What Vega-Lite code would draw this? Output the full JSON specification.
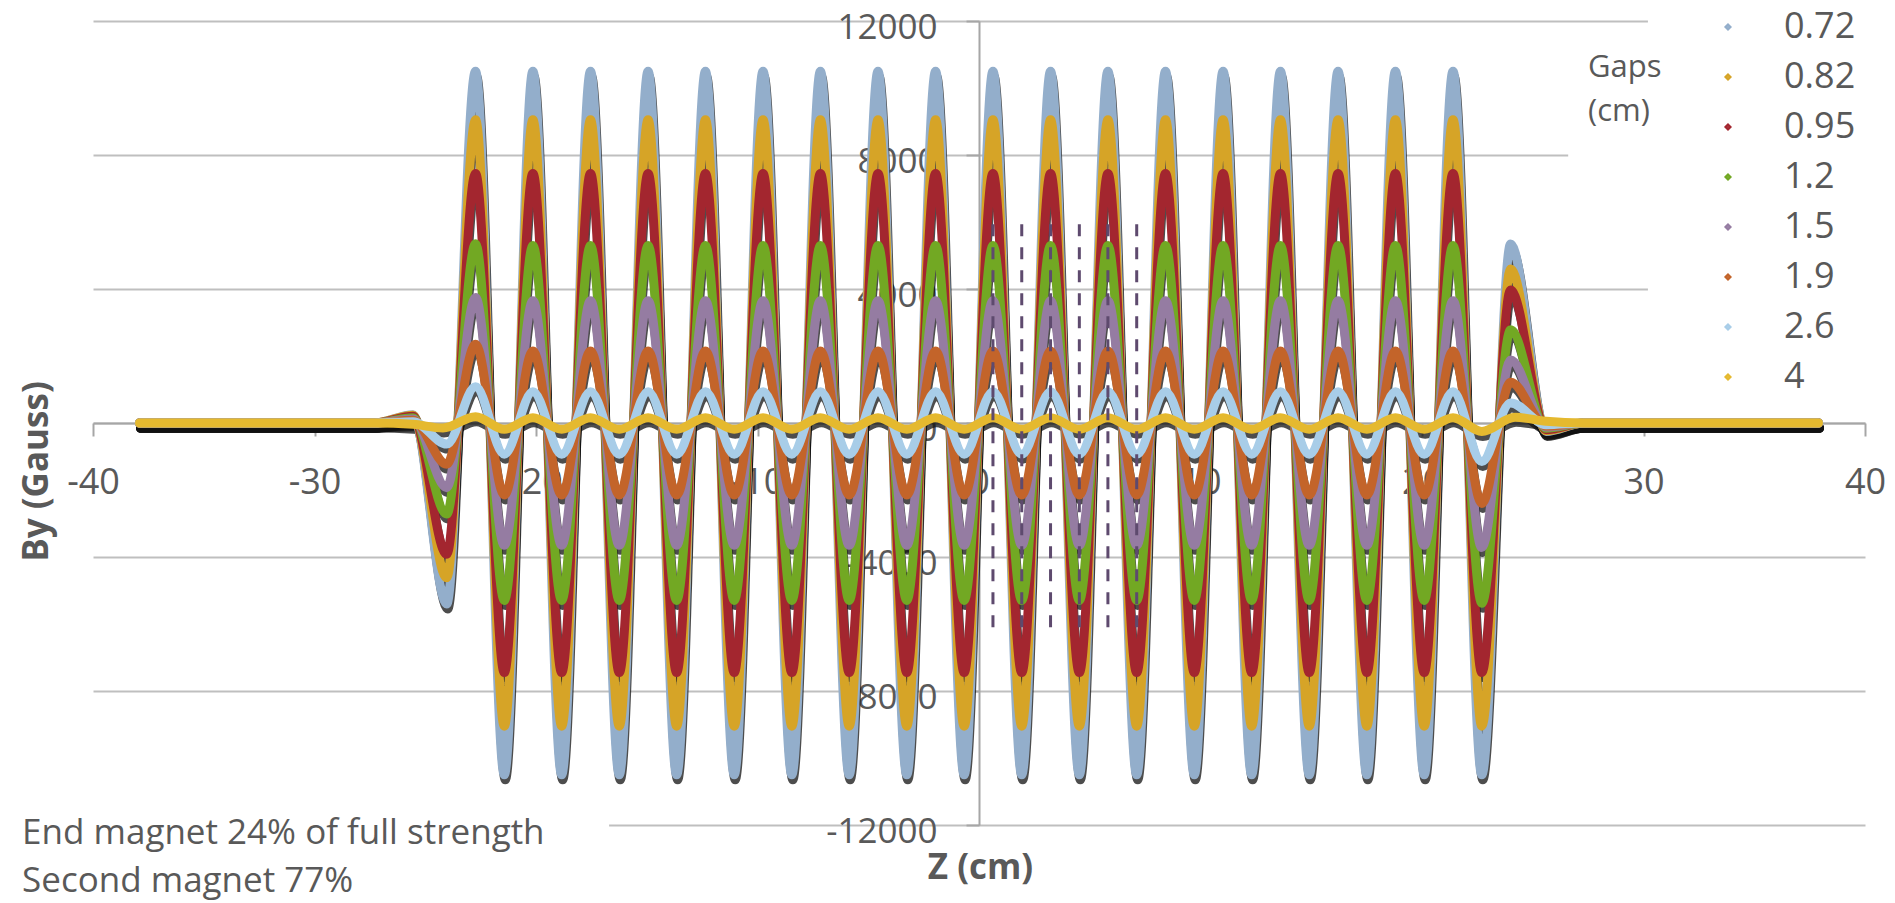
{
"$schema": "https://vega.github.io/schema/vega-lite/v6.json",
"width": 1772, "height": 804,
"autosize": {"type": "none"},
"padding": {"left": 93, "top": 21, "right": 30, "bottom": 78},
"background": "white",
"config": {"view": {"stroke": null}, "font": "Open Sans"},
"datasets": {
"field": [
{"g":"0.72","z":-37.9,"y":0},{"g":"0.72","z":-27.3,"y":0},{"g":"0.72","z":-25.55,"y":250},{"g":"0.72","z":-24.03,"y":-5400},
{"g":"0.72","z":-22.73,"y":10500},{"g":"0.72","z":-21.43,"y":-10500},{"g":"0.72","z":-20.14,"y":10500},{"g":"0.72","z":-18.84,"y":-10500},{"g":"0.72","z":-17.54,"y":10500},{"g":"0.72","z":-16.24,"y":-10500},{"g":"0.72","z":-14.94,"y":10500},{"g":"0.72","z":-13.65,"y":-10500},{"g":"0.72","z":-12.35,"y":10500},{"g":"0.72","z":-11.05,"y":-10500},{"g":"0.72","z":-9.75,"y":10500},{"g":"0.72","z":-8.45,"y":-10500},{"g":"0.72","z":-7.16,"y":10500},{"g":"0.72","z":-5.86,"y":-10500},{"g":"0.72","z":-4.56,"y":10500},{"g":"0.72","z":-3.26,"y":-10500},{"g":"0.72","z":-1.96,"y":10500},{"g":"0.72","z":-0.67,"y":-10500},{"g":"0.72","z":0.63,"y":10500},{"g":"0.72","z":1.93,"y":-10500},{"g":"0.72","z":3.23,"y":10500},{"g":"0.72","z":4.53,"y":-10500},{"g":"0.72","z":5.82,"y":10500},{"g":"0.72","z":7.12,"y":-10500},{"g":"0.72","z":8.42,"y":10500},{"g":"0.72","z":9.72,"y":-10500},{"g":"0.72","z":11.02,"y":10500},{"g":"0.72","z":12.31,"y":-10500},{"g":"0.72","z":13.61,"y":10500},{"g":"0.72","z":14.91,"y":-10500},{"g":"0.72","z":16.21,"y":10500},{"g":"0.72","z":17.51,"y":-10500},{"g":"0.72","z":18.8,"y":10500},{"g":"0.72","z":20.1,"y":-10500},{"g":"0.72","z":21.4,"y":10500},{"g":"0.72","z":22.7,"y":-10500},
{"g":"0.72","z":24.0,"y":5340},{"g":"0.72","z":25.6,"y":-250},{"g":"0.72","z":27.3,"y":0},{"g":"0.72","z":37.9,"y":0},

{"g":"0.82","z":-37.9,"y":0},{"g":"0.82","z":-27.3,"y":0},{"g":"0.82","z":-25.55,"y":230},{"g":"0.82","z":-24.03,"y":-4620},
{"g":"0.82","z":-22.73,"y":9050},{"g":"0.82","z":-21.43,"y":-9050},{"g":"0.82","z":-20.14,"y":9050},{"g":"0.82","z":-18.84,"y":-9050},{"g":"0.82","z":-17.54,"y":9050},{"g":"0.82","z":-16.24,"y":-9050},{"g":"0.82","z":-14.94,"y":9050},{"g":"0.82","z":-13.65,"y":-9050},{"g":"0.82","z":-12.35,"y":9050},{"g":"0.82","z":-11.05,"y":-9050},{"g":"0.82","z":-9.75,"y":9050},{"g":"0.82","z":-8.45,"y":-9050},{"g":"0.82","z":-7.16,"y":9050},{"g":"0.82","z":-5.86,"y":-9050},{"g":"0.82","z":-4.56,"y":9050},{"g":"0.82","z":-3.26,"y":-9050},{"g":"0.82","z":-1.96,"y":9050},{"g":"0.82","z":-0.67,"y":-9050},{"g":"0.82","z":0.63,"y":9050},{"g":"0.82","z":1.93,"y":-9050},{"g":"0.82","z":3.23,"y":9050},{"g":"0.82","z":4.53,"y":-9050},{"g":"0.82","z":5.82,"y":9050},{"g":"0.82","z":7.12,"y":-9050},{"g":"0.82","z":8.42,"y":9050},{"g":"0.82","z":9.72,"y":-9050},{"g":"0.82","z":11.02,"y":9050},{"g":"0.82","z":12.31,"y":-9050},{"g":"0.82","z":13.61,"y":9050},{"g":"0.82","z":14.91,"y":-9050},{"g":"0.82","z":16.21,"y":9050},{"g":"0.82","z":17.51,"y":-9050},{"g":"0.82","z":18.8,"y":9050},{"g":"0.82","z":20.1,"y":-9050},{"g":"0.82","z":21.4,"y":9050},{"g":"0.82","z":22.7,"y":-9050},
{"g":"0.82","z":24.0,"y":4600},{"g":"0.82","z":25.6,"y":-230},{"g":"0.82","z":27.3,"y":0},{"g":"0.82","z":37.9,"y":0},

{"g":"0.95","z":-37.9,"y":0},{"g":"0.95","z":-27.3,"y":0},{"g":"0.95","z":-25.55,"y":200},{"g":"0.95","z":-24.03,"y":-3920},
{"g":"0.95","z":-22.73,"y":7450},{"g":"0.95","z":-21.43,"y":-7450},{"g":"0.95","z":-20.14,"y":7450},{"g":"0.95","z":-18.84,"y":-7450},{"g":"0.95","z":-17.54,"y":7450},{"g":"0.95","z":-16.24,"y":-7450},{"g":"0.95","z":-14.94,"y":7450},{"g":"0.95","z":-13.65,"y":-7450},{"g":"0.95","z":-12.35,"y":7450},{"g":"0.95","z":-11.05,"y":-7450},{"g":"0.95","z":-9.75,"y":7450},{"g":"0.95","z":-8.45,"y":-7450},{"g":"0.95","z":-7.16,"y":7450},{"g":"0.95","z":-5.86,"y":-7450},{"g":"0.95","z":-4.56,"y":7450},{"g":"0.95","z":-3.26,"y":-7450},{"g":"0.95","z":-1.96,"y":7450},{"g":"0.95","z":-0.67,"y":-7450},{"g":"0.95","z":0.63,"y":7450},{"g":"0.95","z":1.93,"y":-7450},{"g":"0.95","z":3.23,"y":7450},{"g":"0.95","z":4.53,"y":-7450},{"g":"0.95","z":5.82,"y":7450},{"g":"0.95","z":7.12,"y":-7450},{"g":"0.95","z":8.42,"y":7450},{"g":"0.95","z":9.72,"y":-7450},{"g":"0.95","z":11.02,"y":7450},{"g":"0.95","z":12.31,"y":-7450},{"g":"0.95","z":13.61,"y":7450},{"g":"0.95","z":14.91,"y":-7450},{"g":"0.95","z":16.21,"y":7450},{"g":"0.95","z":17.51,"y":-7450},{"g":"0.95","z":18.8,"y":7450},{"g":"0.95","z":20.1,"y":-7450},{"g":"0.95","z":21.4,"y":7450},{"g":"0.95","z":22.7,"y":-7450},
{"g":"0.95","z":24.0,"y":3970},{"g":"0.95","z":25.6,"y":-200},{"g":"0.95","z":27.3,"y":0},{"g":"0.95","z":37.9,"y":0},

{"g":"1.2","z":-37.9,"y":0},{"g":"1.2","z":-27.3,"y":0},{"g":"1.2","z":-25.55,"y":160},{"g":"1.2","z":-24.03,"y":-2720},
{"g":"1.2","z":-22.73,"y":5350},{"g":"1.2","z":-21.43,"y":-5300},{"g":"1.2","z":-20.14,"y":5300},{"g":"1.2","z":-18.84,"y":-5300},{"g":"1.2","z":-17.54,"y":5300},{"g":"1.2","z":-16.24,"y":-5300},{"g":"1.2","z":-14.94,"y":5300},{"g":"1.2","z":-13.65,"y":-5300},{"g":"1.2","z":-12.35,"y":5300},{"g":"1.2","z":-11.05,"y":-5300},{"g":"1.2","z":-9.75,"y":5300},{"g":"1.2","z":-8.45,"y":-5300},{"g":"1.2","z":-7.16,"y":5300},{"g":"1.2","z":-5.86,"y":-5300},{"g":"1.2","z":-4.56,"y":5300},{"g":"1.2","z":-3.26,"y":-5300},{"g":"1.2","z":-1.96,"y":5300},{"g":"1.2","z":-0.67,"y":-5300},{"g":"1.2","z":0.63,"y":5300},{"g":"1.2","z":1.93,"y":-5300},{"g":"1.2","z":3.23,"y":5300},{"g":"1.2","z":4.53,"y":-5300},{"g":"1.2","z":5.82,"y":5300},{"g":"1.2","z":7.12,"y":-5300},{"g":"1.2","z":8.42,"y":5300},{"g":"1.2","z":9.72,"y":-5300},{"g":"1.2","z":11.02,"y":5300},{"g":"1.2","z":12.31,"y":-5300},{"g":"1.2","z":13.61,"y":5300},{"g":"1.2","z":14.91,"y":-5300},{"g":"1.2","z":16.21,"y":5300},{"g":"1.2","z":17.51,"y":-5300},{"g":"1.2","z":18.8,"y":5300},{"g":"1.2","z":20.1,"y":-5300},{"g":"1.2","z":21.4,"y":5300},{"g":"1.2","z":22.7,"y":-5380},
{"g":"1.2","z":24.0,"y":2780},{"g":"1.2","z":25.6,"y":-160},{"g":"1.2","z":27.3,"y":0},{"g":"1.2","z":37.9,"y":0},

{"g":"1.5","z":-37.9,"y":0},{"g":"1.5","z":-27.3,"y":0},{"g":"1.5","z":-25.55,"y":120},{"g":"1.5","z":-24.03,"y":-1930},
{"g":"1.5","z":-22.73,"y":3750},{"g":"1.5","z":-21.43,"y":-3650},{"g":"1.5","z":-20.14,"y":3650},{"g":"1.5","z":-18.84,"y":-3650},{"g":"1.5","z":-17.54,"y":3650},{"g":"1.5","z":-16.24,"y":-3650},{"g":"1.5","z":-14.94,"y":3650},{"g":"1.5","z":-13.65,"y":-3650},{"g":"1.5","z":-12.35,"y":3650},{"g":"1.5","z":-11.05,"y":-3650},{"g":"1.5","z":-9.75,"y":3650},{"g":"1.5","z":-8.45,"y":-3650},{"g":"1.5","z":-7.16,"y":3650},{"g":"1.5","z":-5.86,"y":-3650},{"g":"1.5","z":-4.56,"y":3650},{"g":"1.5","z":-3.26,"y":-3650},{"g":"1.5","z":-1.96,"y":3650},{"g":"1.5","z":-0.67,"y":-3650},{"g":"1.5","z":0.63,"y":3650},{"g":"1.5","z":1.93,"y":-3650},{"g":"1.5","z":3.23,"y":3650},{"g":"1.5","z":4.53,"y":-3650},{"g":"1.5","z":5.82,"y":3650},{"g":"1.5","z":7.12,"y":-3650},{"g":"1.5","z":8.42,"y":3650},{"g":"1.5","z":9.72,"y":-3650},{"g":"1.5","z":11.02,"y":3650},{"g":"1.5","z":12.31,"y":-3650},{"g":"1.5","z":13.61,"y":3650},{"g":"1.5","z":14.91,"y":-3650},{"g":"1.5","z":16.21,"y":3650},{"g":"1.5","z":17.51,"y":-3650},{"g":"1.5","z":18.8,"y":3650},{"g":"1.5","z":20.1,"y":-3650},{"g":"1.5","z":21.4,"y":3650},{"g":"1.5","z":22.7,"y":-3720},
{"g":"1.5","z":24.0,"y":1880},{"g":"1.5","z":25.6,"y":-120},{"g":"1.5","z":27.3,"y":0},{"g":"1.5","z":37.9,"y":0},

{"g":"1.9","z":-37.9,"y":0},{"g":"1.9","z":-27.3,"y":0},{"g":"1.9","z":-25.55,"y":80},{"g":"1.9","z":-24.03,"y":-1230},
{"g":"1.9","z":-22.73,"y":2350},{"g":"1.9","z":-21.43,"y":-2150},{"g":"1.9","z":-20.14,"y":2150},{"g":"1.9","z":-18.84,"y":-2150},{"g":"1.9","z":-17.54,"y":2150},{"g":"1.9","z":-16.24,"y":-2150},{"g":"1.9","z":-14.94,"y":2150},{"g":"1.9","z":-13.65,"y":-2150},{"g":"1.9","z":-12.35,"y":2150},{"g":"1.9","z":-11.05,"y":-2150},{"g":"1.9","z":-9.75,"y":2150},{"g":"1.9","z":-8.45,"y":-2150},{"g":"1.9","z":-7.16,"y":2150},{"g":"1.9","z":-5.86,"y":-2150},{"g":"1.9","z":-4.56,"y":2150},{"g":"1.9","z":-3.26,"y":-2150},{"g":"1.9","z":-1.96,"y":2150},{"g":"1.9","z":-0.67,"y":-2150},{"g":"1.9","z":0.63,"y":2150},{"g":"1.9","z":1.93,"y":-2150},{"g":"1.9","z":3.23,"y":2150},{"g":"1.9","z":4.53,"y":-2150},{"g":"1.9","z":5.82,"y":2150},{"g":"1.9","z":7.12,"y":-2150},{"g":"1.9","z":8.42,"y":2150},{"g":"1.9","z":9.72,"y":-2150},{"g":"1.9","z":11.02,"y":2150},{"g":"1.9","z":12.31,"y":-2150},{"g":"1.9","z":13.61,"y":2150},{"g":"1.9","z":14.91,"y":-2150},{"g":"1.9","z":16.21,"y":2150},{"g":"1.9","z":17.51,"y":-2150},{"g":"1.9","z":18.8,"y":2150},{"g":"1.9","z":20.1,"y":-2150},{"g":"1.9","z":21.4,"y":2150},{"g":"1.9","z":22.7,"y":-2400},
{"g":"1.9","z":24.0,"y":1220},{"g":"1.9","z":25.6,"y":-90},{"g":"1.9","z":27.3,"y":0},{"g":"1.9","z":37.9,"y":0},

{"g":"2.6","z":-37.9,"y":0},{"g":"2.6","z":-27.3,"y":0},{"g":"2.6","z":-25.55,"y":40},{"g":"2.6","z":-24.03,"y":-630},
{"g":"2.6","z":-22.73,"y":1080},{"g":"2.6","z":-21.43,"y":-930},{"g":"2.6","z":-20.14,"y":930},{"g":"2.6","z":-18.84,"y":-930},{"g":"2.6","z":-17.54,"y":930},{"g":"2.6","z":-16.24,"y":-930},{"g":"2.6","z":-14.94,"y":930},{"g":"2.6","z":-13.65,"y":-930},{"g":"2.6","z":-12.35,"y":930},{"g":"2.6","z":-11.05,"y":-930},{"g":"2.6","z":-9.75,"y":930},{"g":"2.6","z":-8.45,"y":-930},{"g":"2.6","z":-7.16,"y":930},{"g":"2.6","z":-5.86,"y":-930},{"g":"2.6","z":-4.56,"y":930},{"g":"2.6","z":-3.26,"y":-930},{"g":"2.6","z":-1.96,"y":930},{"g":"2.6","z":-0.67,"y":-930},{"g":"2.6","z":0.63,"y":930},{"g":"2.6","z":1.93,"y":-930},{"g":"2.6","z":3.23,"y":930},{"g":"2.6","z":4.53,"y":-930},{"g":"2.6","z":5.82,"y":930},{"g":"2.6","z":7.12,"y":-930},{"g":"2.6","z":8.42,"y":930},{"g":"2.6","z":9.72,"y":-930},{"g":"2.6","z":11.02,"y":930},{"g":"2.6","z":12.31,"y":-930},{"g":"2.6","z":13.61,"y":930},{"g":"2.6","z":14.91,"y":-930},{"g":"2.6","z":16.21,"y":930},{"g":"2.6","z":17.51,"y":-930},{"g":"2.6","z":18.8,"y":930},{"g":"2.6","z":20.1,"y":-930},{"g":"2.6","z":21.4,"y":930},{"g":"2.6","z":22.7,"y":-1150},
{"g":"2.6","z":24.0,"y":600},{"g":"2.6","z":25.6,"y":-50},{"g":"2.6","z":27.3,"y":0},{"g":"2.6","z":37.9,"y":0},

{"g":"4","z":-37.9,"y":0},{"g":"4","z":-27.3,"y":0},{"g":"4","z":-25.55,"y":-40},{"g":"4","z":-24.2,"y":-150},
{"g":"4","z":-22.73,"y":190},{"g":"4","z":-21.43,"y":-190},{"g":"4","z":-20.14,"y":160},{"g":"4","z":-18.84,"y":-190},{"g":"4","z":-17.54,"y":160},{"g":"4","z":-16.24,"y":-190},{"g":"4","z":-14.94,"y":160},{"g":"4","z":-13.65,"y":-190},{"g":"4","z":-12.35,"y":160},{"g":"4","z":-11.05,"y":-190},{"g":"4","z":-9.75,"y":160},{"g":"4","z":-8.45,"y":-190},{"g":"4","z":-7.16,"y":160},{"g":"4","z":-5.86,"y":-190},{"g":"4","z":-4.56,"y":160},{"g":"4","z":-3.26,"y":-190},{"g":"4","z":-1.96,"y":160},{"g":"4","z":-0.67,"y":-190},{"g":"4","z":0.63,"y":160},{"g":"4","z":1.93,"y":-190},{"g":"4","z":3.23,"y":160},{"g":"4","z":4.53,"y":-190},{"g":"4","z":5.82,"y":160},{"g":"4","z":7.12,"y":-190},{"g":"4","z":8.42,"y":160},{"g":"4","z":9.72,"y":-190},{"g":"4","z":11.02,"y":160},{"g":"4","z":12.31,"y":-190},{"g":"4","z":13.61,"y":160},{"g":"4","z":14.91,"y":-190},{"g":"4","z":16.21,"y":160},{"g":"4","z":17.51,"y":-190},{"g":"4","z":18.8,"y":160},{"g":"4","z":20.1,"y":-190},{"g":"4","z":21.4,"y":160},{"g":"4","z":22.7,"y":-250},
{"g":"4","z":24.2,"y":170},{"g":"4","z":25.6,"y":50},{"g":"4","z":27.3,"y":0},{"g":"4","z":37.9,"y":0}
],
"marks": [{"z":0.63},{"z":1.93},{"z":3.23},{"z":4.53},{"z":5.82},{"z":7.12}]
},
"encoding": {
"x": {"type": "quantitative", "scale": {"domain": [-40, 40], "nice": false, "zero": false},
"axis": {"title": "Z (cm)", "values": [-40,-30,-20,-10,0,10,20,30,40], "offset": -402, "grid": false,
"domainColor": "#A6A6A6", "domainWidth": 2, "tickColor": "#A6A6A6", "tickWidth": 2, "tickSize": 13,
"labelFontSize": 36, "labelColor": "#595959", "labelPadding": 46, "labelBaseline": "middle", "labelFlush": false, "labelOverlap": false,
"labelExpr": "'' + datum.value",
"titleFontSize": 35, "titleFontWeight": "bold", "titleColor": "#595959", "titleX": 887, "titleY": 444, "titleBaseline": "middle", "titleAlign": "center"}},
"y": {"type": "quantitative", "scale": {"domain": [-12000, 12000], "nice": false, "zero": false},
"axis": {"title": "By (Gauss)", "values": [-12000,-8000,-4000,0,4000,8000,12000], "offset": -886, "grid": true,
"gridColor": "#BFBFBF", "gridWidth": 2,
"domainColor": "#A6A6A6", "domainWidth": 2, "tickColor": "#A6A6A6", "tickWidth": 2, "tickSize": 13,
"labelFontSize": 35, "labelColor": "#595959", "labelPadding": 29, "labelOffset": 6.5, "labelFlush": false, "labelOverlap": false,
"labelExpr": "'' + datum.value",
"titleFontSize": 35, "titleFontWeight": "bold", "titleColor": "#595959", "titleX": -943, "titleY": 450, "titleBaseline": "middle", "titleAlign": "center", "titleAngle": -90}}
},
"layer": [
{
"data": {"values": [{"x":30.2,"x2":41.5,"y":1800,"y2":12600},{"x":26.6,"x2":30.3,"y":7000,"y2":9200},{"x":-41.5,"x2":-16.7,"y":-12600,"y2":-11300}]},
"mark": {"type": "rect", "color": "white"},
"encoding": {
"x": {"field": "x"},
"x2": {"field": "x2"},
"y": {"field": "y"},
"y2": {"field": "y2"}
}
},
{
"data": {"name": "field"},
"mark": {"type": "line", "interpolate": "monotone", "strokeWidth": 9, "color": "#111111", "opacity": 0.75, "yOffset": 5, "xOffset": 1, "strokeCap": "round", "strokeJoin": "round"},
"encoding": {
"x": {"field": "z"},
"y": {"field": "y"},
"detail": {"field": "g", "type": "nominal"}
}
},
{
"data": {"name": "field"},
"mark": {"type": "line", "interpolate": "monotone", "strokeWidth": 9, "strokeCap": "round", "strokeJoin": "round"},
"encoding": {
"x": {"field": "z"},
"y": {"field": "y"},
"color": {"field": "g", "type": "nominal",
"scale": {"domain": ["0.72","0.82","0.95","1.2","1.5","1.9","2.6","4"], "range": ["#93AECB","#D6A427","#A3262F","#72A823","#957CA2","#C3642A","#A8CDE8","#E5B92F"]},
"legend": {"orient": "none", "legendX": 1495, "legendY": -12, "title": ["", "Gaps", "(cm)"], "titleOrient": "left", "titleFontSize": 31, "titleFontWeight": "normal", "titleColor": "#595959", "titleLineHeight": 44, "titleBaseline": "top", "titleAnchor": "start", "titleAlign": "left", "titlePadding": 48,
"labelFontSize": 36, "labelColor": "#595959", "labelOffset": 38, "symbolType": "diamond", "symbolSize": 20, "symbolStrokeWidth": 2.5, "rowPadding": 14, "padding": 0}}
}
},
{
"data": {"name": "marks"},
"mark": {"type": "rule", "color": "#5E4A6E", "strokeWidth": 3, "strokeDash": [12, 11]},
"encoding": {
"x": {"field": "z"},
"y": {"datum": -6100},
"y2": {"datum": 6100}
}
},
{
"data": {"values": [{}]},
"mark": {"type": "text", "text": ["End magnet 24% of full strength", "Second magnet 77%"], "lineHeight": 48, "fontSize": 35, "color": "#595959", "align": "left", "baseline": "alphabetic"},
"encoding": {
"x": {"datum": -43.2},
"y": {"datum": -12560}
}
}
]
}
